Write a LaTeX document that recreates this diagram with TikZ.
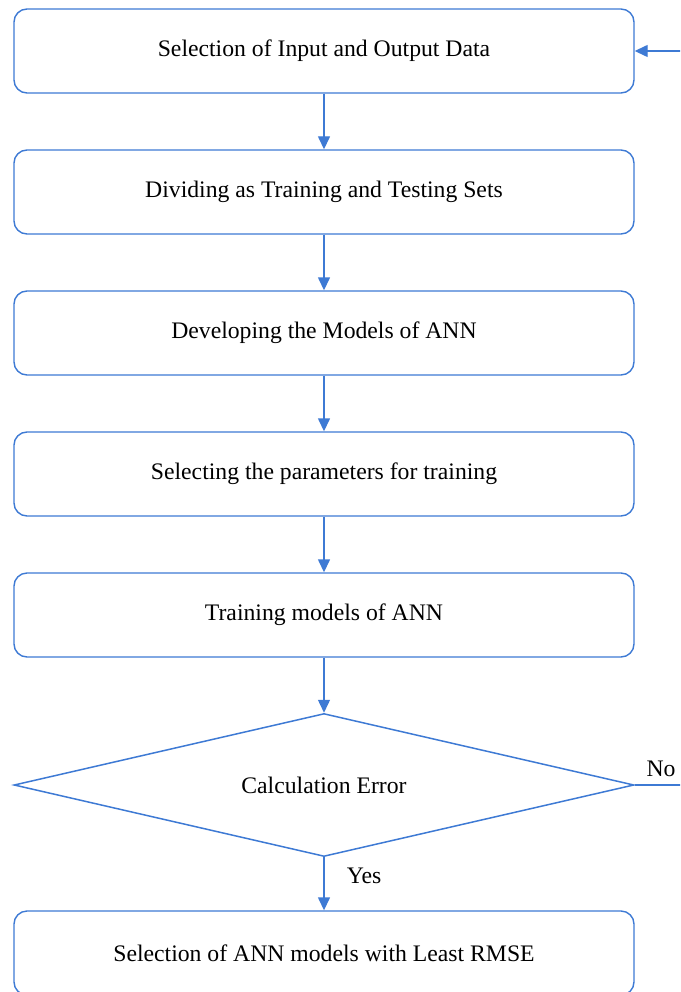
\documentclass[tikz,border=0pt]{standalone}
\usepackage{fontspec}
\setmainfont{Liberation Serif}
\usetikzlibrary{shapes.geometric,arrows.meta}
\definecolor{flowblue}{RGB}{62,122,212}
\begin{document}
\begin{tikzpicture}[x=1pt,y=-1pt,
  txt/.style={font=\fontsize{23.7}{27}\selectfont},
  procbox/.style={txt,draw=flowblue,line width=1.4pt,rounded corners=13pt,minimum width=620pt,minimum height=84pt,inner sep=0pt},
  decision/.style={txt,draw=flowblue,line width=1.5pt,shape=diamond,shape aspect=4.34,minimum width=620pt,minimum height=143pt,inner sep=0pt},
  flow/.style={draw=flowblue,line width=1.4pt,-{Triangle[length=13pt,width=12pt]}},
  lbl/.style={txt,inner sep=0pt}]
\clip (0,0) rectangle (680,992);
\useasboundingbox (0,0) rectangle (680,992);
\node[procbox] (b1) at (324,51) {Selection of Input and Output Data};
\node[procbox] (b2) at (324,192) {Dividing as Training and Testing Sets};
\node[procbox] (b3) at (324,333) {Developing the Models of ANN};
\node[procbox] (b4) at (324,474) {Selecting the parameters for training};
\node[procbox] (b5) at (324,615) {Training models of ANN};
\node[decision] (d) at (324,785) {Calculation Error};
\node[procbox] (b6) at (324,953) {Selection of ANN models with Least RMSE};
\draw[flow] (b1) -- (b2);
\draw[flow] (b2) -- (b3);
\draw[flow] (b3) -- (b4);
\draw[flow] (b4) -- (b5);
\draw[flow] (b5) -- (d);
\draw[flow] (d) -- (b6);
\coordinate (c1) at (684,785);
\coordinate (c2) at (684,51);
\draw[flow] (d.east) -- (c1) -- (c2) -- (b1.east);
\node[lbl] (no) at (661,769) {No};
\node[lbl] (yes) at (364,876) {Yes};
\end{tikzpicture}
\end{document}
